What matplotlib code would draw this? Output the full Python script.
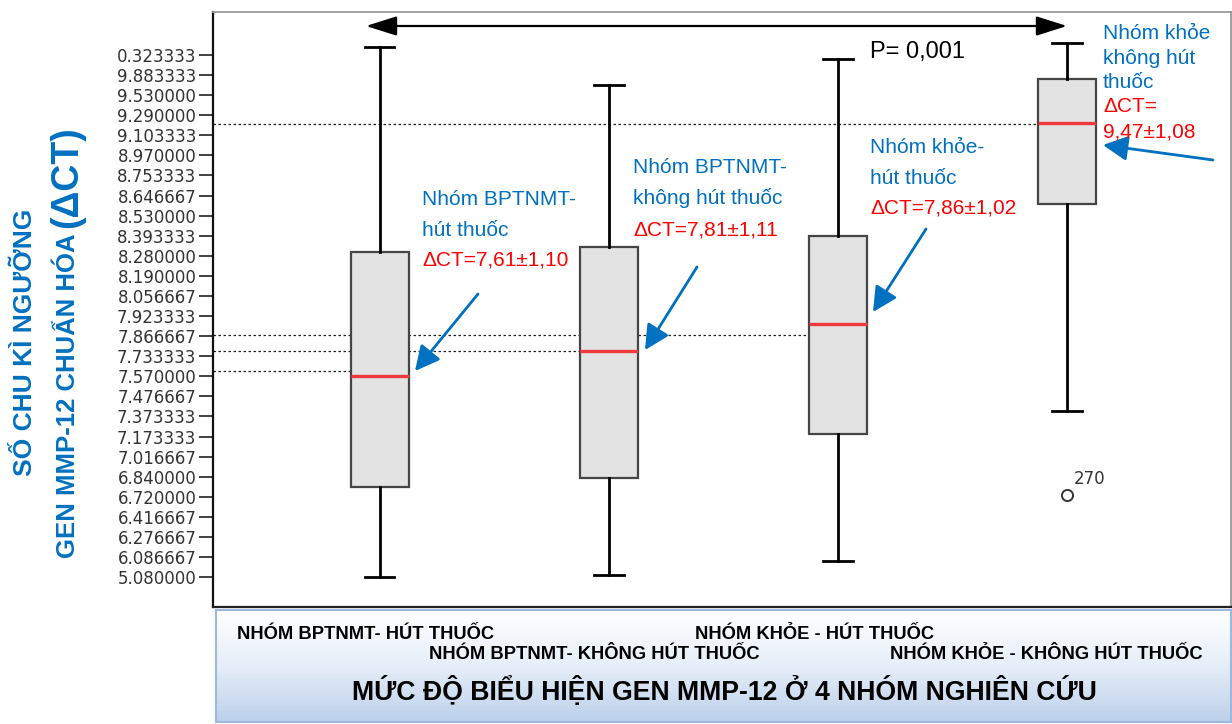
import numpy as np
import matplotlib
matplotlib.use("Agg")
import matplotlib.pyplot as plt
from matplotlib.patches import FancyArrowPatch

W, H = 1232, 724

# ---------------- data ----------------
tick_values = [5.08, 6.086667, 6.276667, 6.416667, 6.72, 6.84, 7.016667, 7.173333,
               7.373333, 7.476667, 7.57, 7.733333, 7.866667, 7.923333, 8.056667,
               8.19, 8.28, 8.393333, 8.53, 8.646667, 8.753333, 8.97, 9.103333,
               9.29, 9.53, 9.883333, 10.323333]
tick_labels = ["5.080000", "6.086667", "6.276667", "6.416667", "6.720000", "6.840000",
               "7.016667", "7.173333", "7.373333", "7.476667", "7.570000", "7.733333",
               "7.866667", "7.923333", "8.056667", "8.190000", "8.280000", "8.393333",
               "8.530000", "8.646667", "8.753333", "8.970000", "9.103333", "9.290000",
               "9.530000", "9.883333", "0.323333"]

groups = ["NHÓM BPTNMT- HÚT THUỐC", "NHÓM BPTNMT- KHÔNG HÚT THUỐC",
          "NHÓM KHỎE - HÚT THUỐC", "NHÓM KHỎE - KHÔNG HÚT THUỐC"]
whislo = [5.08, 5.18, 5.89, 7.40]
q1 = [6.78, 6.83, 7.20, 8.60]
med = [7.57, 7.77, 7.90, 9.22]
q3 = [8.30, 8.33, 8.39, 9.81]
whishi = [10.49, 9.71, 10.24, 10.58]
outliers = [[], [], [], [6.73]]
outlier_ids = [[], [], [], ["270"]]
ref_lines = [7.61, 7.77, 7.87, 9.21]

group_titles = [["Nhóm BPTNMT-", "hút thuốc"], ["Nhóm BPTNMT-", "không hút thuốc"],
                ["Nhóm khỏe-", "hút thuốc"], ["Nhóm khỏe", "không hút", "thuốc"]]
delta_ct = [["ΔCT=7,61±1,10"], ["ΔCT=7,81±1,11"], ["ΔCT=7,86±1,02"], ["ΔCT=", "9,47±1,08"]]
p_text = "P= 0,001"
x_title = "MỨC ĐỘ BIỂU HIỆN GEN MMP-12 Ở 4 NHÓM NGHIÊN CỨU"
y_line1 = "SỐ CHU KÌ NGƯỠNG"
y_line2a = "GEN MMP-12 CHUẨN HÓA"
y_line2b = "(ΔCT)"

# ---------------- helpers ----------------
tv = np.array(tick_values)
tp = np.arange(len(tv), dtype=float)
s_lo = tv[1] - tv[0]
s_hi = tv[-1] - tv[-2]


def fwd(v):
    v = np.asarray(v, dtype=float)
    out = np.interp(v, tv, tp)
    out = np.where(v < tv[0], (v - tv[0]) / s_lo, out)
    out = np.where(v > tv[-1], tp[-1] + (v - tv[-1]) / s_hi, out)
    return out


def inv(p):
    p = np.asarray(p, dtype=float)
    out = np.interp(p, tp, tv)
    out = np.where(p < 0, tv[0] + p * s_lo, out)
    out = np.where(p > tp[-1], tv[-1] + (p - tp[-1]) * s_hi, out)
    return out


def F(x, y):
    return (x / W, 1 - y / H)


BLUE = "#0070C0"
RED = "#FF0000"
SANS = ["Liberation Sans", "DejaVu Sans"]

fig = plt.figure(figsize=(W / 100, H / 100), dpi=100)
ax = fig.add_axes([213 / W, 1 - 607 / H, (1231 - 213) / W, (607 - 12) / H])
ax.set_yscale("function", functions=(fwd, inv))

positions = np.arange(1, len(groups) + 1)
box_w = 0.253
stats = []
for i in range(len(groups)):
    stats.append(dict(whislo=whislo[i], q1=q1[i], med=med[i], q3=q3[i],
                      whishi=whishi[i], fliers=outliers[i], label=groups[i]))
ax.bxp(stats, positions=positions, widths=box_w, patch_artist=True,
       capwidths=0.127,
       boxprops=dict(facecolor="#E3E3E3", edgecolor="#454545", linewidth=1.6),
       whiskerprops=dict(color="black", linewidth=2.0),
       capprops=dict(color="black", linewidth=2.0),
       medianprops=dict(color="#EE3A3F", linewidth=2.4),
       flierprops=dict(marker="o", markerfacecolor="none", markeredgecolor="#333333",
                       markersize=8, markeredgewidth=1.4))

xl = (0.271, 4.716)
ax.set_xlim(*xl)
ax.set_ylim(float(inv(-1.49)), float(inv(28.14)))

for i, v in enumerate(ref_lines):
    ax.hlines(v, xl[0], positions[i] - box_w / 2, colors="#222222",
              linestyles=(0, (2, 2)), linewidth=0.9, zorder=1)

for i, ids in enumerate(outlier_ids):
    for v, lab in zip(outliers[i], ids):
        ax.annotate(lab, xy=(positions[i], v), xytext=(4.5, 8), textcoords="offset points",
                    fontsize=12, color="#333333", family=["DejaVu Sans"], va="baseline")

ax.set_yticks(tick_values)
ax.set_yticklabels(tick_labels)
ax.yaxis.set_minor_locator(matplotlib.ticker.NullLocator())
ax.tick_params(axis="y", length=10, width=1.3, color="#333333", pad=2,
               labelsize=12, labelcolor="#333333")
for t in ax.get_yticklabels():
    t.set_family(["DejaVu Sans"])
ax.set_xticks([])
ax.spines["left"].set_color("#111111")
ax.spines["left"].set_linewidth(1.6)
ax.spines["bottom"].set_color("#222222")
ax.spines["bottom"].set_linewidth(1.6)
for s in ("top", "right"):
    ax.spines[s].set_color("#999999")
    ax.spines[s].set_linewidth(1.3)

# top double arrow + p value
arr = FancyArrowPatch(F(366, 26), F(1067, 26), transform=fig.transFigure,
                      arrowstyle="<|-|>,head_length=0.95,head_width=0.3",
                      mutation_scale=20, color="black", linewidth=1.6,
                      shrinkA=0, shrinkB=0)
fig.patches.append(arr)
fig.text(*F(870, 58), p_text, fontsize=17, family=SANS, color="black", va="baseline")

# group annotations
text_x = [422, 633, 870, 1103]
first_base = [205, 173, 153, 39]
line_step = [30.5, 31, 30.5, 24.5]
for i in range(len(groups)):
    lines = [(s, BLUE) for s in group_titles[i]] + [(s, RED) for s in delta_ct[i]]
    for k, (s, c) in enumerate(lines):
        fig.text(*F(text_x[i], first_base[i] + k * line_step[i]), s, fontsize=15,
                 family=SANS, color=c, va="baseline")

arrow_tails = [(478, 294), (697, 267), (926, 229), (1213, 160)]
arrow_tips = [(415, 371), (645, 350), (873, 312), (1103, 145)]
for tail, tip in zip(arrow_tails, arrow_tips):
    fig.patches.append(FancyArrowPatch(F(*tail), F(*tip), transform=fig.transFigure,
                                       arrowstyle="-|>,head_length=0.75,head_width=0.38",
                                       mutation_scale=20, color=BLUE, linewidth=2.0,
                                       shrinkA=0, shrinkB=0))

# y label
fig.text(*F(25, 342), y_line1, rotation=90, ha="center", va="center",
         fontsize=19, fontweight="bold", color=BLUE, family=SANS)
ta = fig.text(*F(68, 558), y_line2a, rotation=90, ha="center", va="bottom",
              fontsize=18.5, fontweight="bold", color=BLUE, family=SANS)
fig.canvas.draw()
bb = ta.get_window_extent()
fig.text(67 / W, (bb.y1 + 5) / H, y_line2b, rotation=90, ha="center", va="bottom",
         fontsize=27, fontweight="bold", color=BLUE, family=SANS)

# bottom category panel with gradient
pax = fig.add_axes([216 / W, 2 / H, (1231 - 216) / W, (722 - 610) / H])
grad = np.linspace(0, 1, 256).reshape(-1, 1)
cmap = matplotlib.colors.LinearSegmentedColormap.from_list("g", ["#FFFFFF", "#E6EEF8", "#BCD0EA"])
pax.imshow(grad, aspect="auto", cmap=cmap, extent=(0, 1, 0, 1), origin="upper")
pax.set_xticks([])
pax.set_yticks([])
for s in pax.spines.values():
    s.set_color("#9CB8DE")
    s.set_linewidth(1.5)

cat_pos = [(237, 639), (429, 659), (695, 639), (890, 659)]
for name, (x, y) in zip(groups, cat_pos):
    fig.text(*F(x, y), name, fontsize=13.2, fontweight="bold", family=SANS,
             color="black", va="baseline")
fig.text(*F(724, 700), x_title, fontsize=19.2, fontweight="bold", family=SANS,
         color="black", ha="center", va="baseline")

fig.savefig("out.png", dpi=100)
